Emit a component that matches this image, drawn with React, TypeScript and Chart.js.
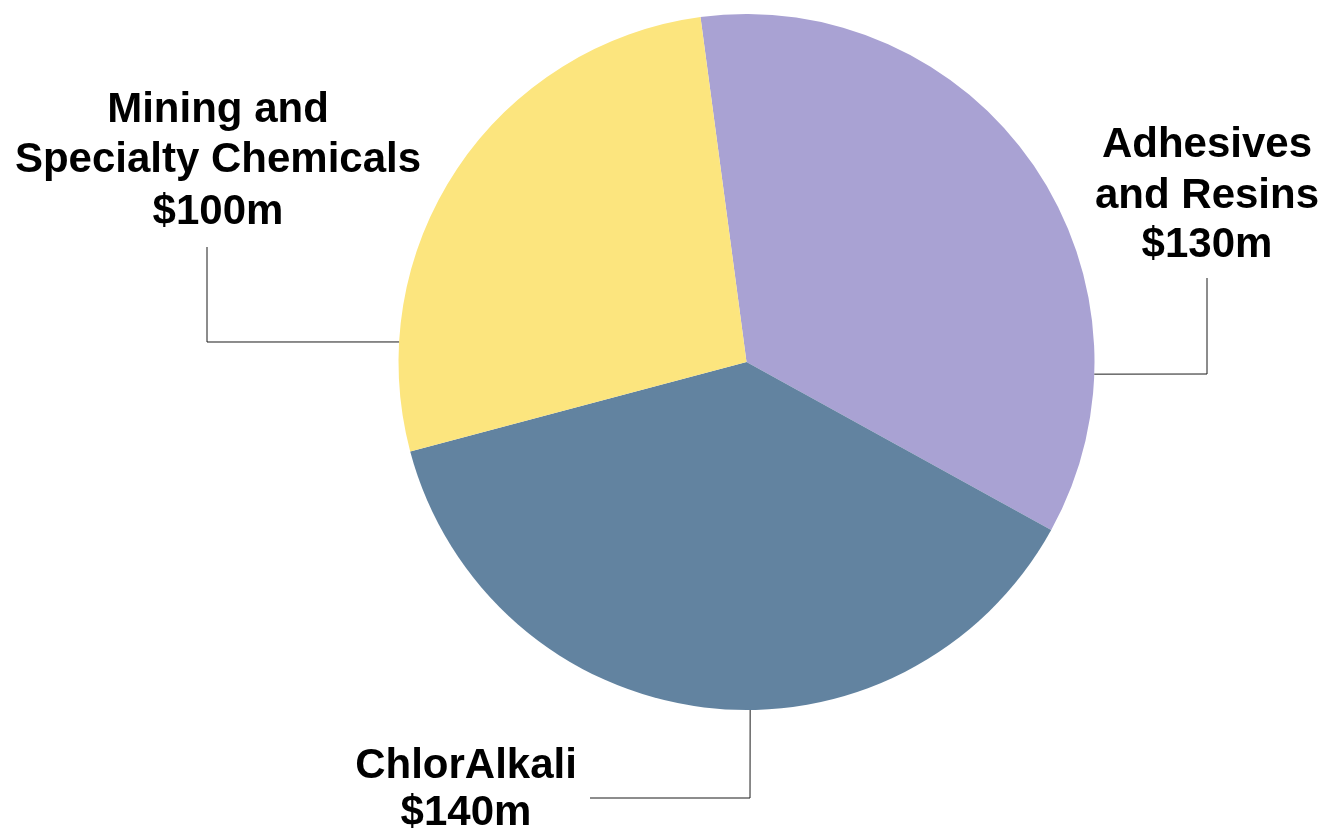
import React, { useEffect, useRef } from "react";
import { Chart, registerables } from "chart.js";

Chart.register(...registerables);

const categories = ["Adhesives and Resins", "ChlorAlkali", "Mining and Specialty Chemicals"];
const values = [130, 140, 100];
const valueLabels = ["$130m", "$140m", "$100m"];
const labelLines = [
  ["Adhesives", "and Resins"],
  ["ChlorAlkali"],
  ["Mining and", "Specialty Chemicals"],
];
const colors = ["#A9A2D3", "#6283A0", "#FCE57E"];

// Leader / label layout, relative to the pie centre (in px) — layout only
const labelLayout = [
  { angle: 2, path: [[460.5, 12], [460.5, -84]], textX: 460.5, baselines: [-205, -154, -105] },
  { angle: 89.4, path: [[3.5, 436], [-156.5, 436]], textX: -280.5, baselines: [416, 463] },
  { angle: 183.3, path: [[-539.5, -20], [-539.5, -115]], textX: -528.5, baselines: [-240, -190, -138] },
];

const labelPlugin = {
  id: "leaderLabels",
  afterDraw(chart: any) {
    const ctx = chart.ctx;
    const meta = chart.getDatasetMeta(0);
    meta.data.forEach((arc: any, i: number) => {
      const cx = arc.x;
      const cy = arc.y;
      const r = arc.outerRadius;
      const lay = labelLayout[i];
      const a = (lay.angle * Math.PI) / 180;
      const sx = cx + r * Math.cos(a);
      const sy = cy + r * Math.sin(a);
      ctx.save();
      ctx.strokeStyle = "#1a1a1a";
      ctx.lineWidth = 1;
      ctx.beginPath();
      ctx.moveTo(sx, sy);
      lay.path.forEach((p) => ctx.lineTo(cx + p[0], cy + p[1]));
      ctx.stroke();
      ctx.fillStyle = "#000";
      ctx.font = "bold 42px 'Liberation Sans', Arial, sans-serif";
      ctx.textAlign = "center";
      ctx.textBaseline = "alphabetic";
      const lines = [...labelLines[i], valueLabels[i]];
      lines.forEach((t, k) => {
        ctx.fillText(t, cx + lay.textX, cy + lay.baselines[k]);
      });
      ctx.restore();
    });
  },
};

export default function App() {
  const ref = useRef<HTMLCanvasElement>(null);
  useEffect(() => {
    document.body.style.margin = "0";
    const chart = new Chart(ref.current!, {
      type: "pie",
      data: {
        labels: categories,
        datasets: [
          {
            data: values,
            backgroundColor: colors,
            borderWidth: 0,
          },
        ],
      },
      options: {
        responsive: false,
        animation: false,
        rotation: -7.6,
        layout: { padding: { left: 398, right: 232, top: 14, bottom: 124 } },
        plugins: {
          legend: { display: false },
          tooltip: { enabled: false },
        },
      },
      plugins: [labelPlugin],
    });
    return () => chart.destroy();
  }, []);
  return (
    <div style={{ position: "fixed", left: 0, top: 0, width: 1327, height: 834, background: "#fff" }}>
      <canvas ref={ref} width={1327} height={834} />
    </div>
  );
}
